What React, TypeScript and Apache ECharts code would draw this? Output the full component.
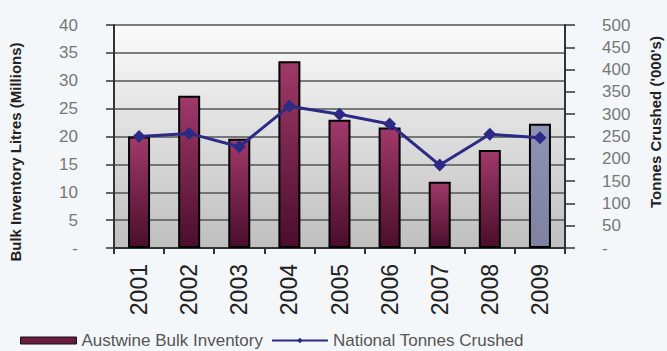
import React, { useEffect, useRef } from "react";
import * as echarts from "echarts";

const years = ["2001", "2002", "2003", "2004", "2005", "2006", "2007", "2008", "2009"];
const bulkInventory = [20.0, 27.3, 19.6, 33.5, 23.0, 21.6, 11.9, 17.6, 22.3];
const tonnesCrushed = [250, 257, 227, 318, 300, 278, 186, 255, 247];

const barGrad = new echarts.graphic.LinearGradient(0, 0, 0, 1, [
  { offset: 0, color: "#a0396a" },
  { offset: 1, color: "#4a0e2b" },
]);
const lastGrad = new echarts.graphic.LinearGradient(0, 0, 0, 1, [
  { offset: 0, color: "#8e93b5" },
  { offset: 1, color: "#7e829f" },
]);

export default function App() {
  const ref = useRef<HTMLDivElement>(null);
  useEffect(() => {
    if (!ref.current) return;
    const chart = echarts.init(ref.current, null, { renderer: "svg" });
    chart.setOption({
      animation: false,
      backgroundColor: "#f4f7f9",
      grid: {
        left: 114,
        right: 102,
        top: 25,
        bottom: 103,
        show: true,
        borderWidth: 0,
        backgroundColor: new echarts.graphic.LinearGradient(0, 0, 0, 1, [
          { offset: 0, color: "#fbfbfb" },
          { offset: 1, color: "#bfbfbf" },
        ]),
      },
      legend: {
        left: 20,
        top: 332,
        padding: 0,
        itemWidth: 56,
        itemHeight: 7,
        itemGap: 8,
        textStyle: { fontFamily: "Liberation Sans", fontSize: 17, color: "#555", lineHeight: 17 },
        data: [
          { name: "Austwine Bulk Inventory", icon: "rect", itemStyle: { color: "#6b1a40", borderColor: "#111", borderWidth: 1 } },
          { name: "National Tonnes Crushed" },
        ],
      },
      xAxis: {
        type: "category",
        data: years,
        axisLine: { lineStyle: { color: "#333", width: 2 } },
        axisTick: { show: true, length: 6, lineStyle: { color: "#333", width: 2 } },
        axisLabel: {
          rotate: 90,
          margin: 16,
          fontFamily: "Liberation Sans",
          fontSize: 23,
          color: "#222",
        },
      },
      yAxis: [
        {
          type: "value",
          min: 0,
          max: 40,
          interval: 5,
          axisLine: { show: true, lineStyle: { color: "#333", width: 2 } },
          axisTick: { show: true, length: 8, lineStyle: { color: "#333", width: 1.5 } },
          splitLine: { lineStyle: { color: "#555", width: 1.5 } },
          axisLabel: {
            margin: 36,
            fontFamily: "Liberation Sans",
            fontSize: 17,
            color: "#777",
            formatter: (v: number) => (v === 0 ? "-" : String(v)),
          },
        },
        {
          type: "value",
          min: 0,
          max: 500,
          interval: 50,
          position: "right",
          axisLine: { show: true, lineStyle: { color: "#333", width: 2 } },
          axisTick: { show: true, length: 10, lineStyle: { color: "#333", width: 1.5 } },
          splitLine: { show: false },
          axisLabel: {
            margin: 37,
            fontFamily: "Liberation Sans",
            fontSize: 17,
            color: "#777",
            formatter: (v: number) => (v === 0 ? "-" : String(v)),
          },
        },
      ],
      graphic: [
        {
          type: "text",
          x: 15,
          y: 152,
          rotation: Math.PI / 2,
          style: {
            text: "Bulk Inventory Litres (Millions)",
            fontFamily: "Liberation Sans",
            fontWeight: "bold",
            fontSize: 15,
            fill: "#222",
            align: "center",
            verticalAlign: "middle",
          },
        },
        {
          type: "text",
          x: 655,
          y: 122,
          rotation: Math.PI / 2,
          style: {
            text: "Tonnes Crushed ('000's)",
            fontFamily: "Liberation Sans",
            fontWeight: "bold",
            fontSize: 15,
            fill: "#222",
            align: "center",
            verticalAlign: "middle",
          },
        },
      ],
      series: [
        {
          name: "Austwine Bulk Inventory",
          type: "bar",
          yAxisIndex: 0,
          barWidth: 22,
          data: bulkInventory.map((v, i) =>
            i === bulkInventory.length - 1
              ? { value: v, itemStyle: { color: lastGrad } }
              : v
          ),
          itemStyle: { color: barGrad, borderColor: "#000", borderWidth: 2 },
        },
        {
          name: "National Tonnes Crushed",
          type: "line",
          yAxisIndex: 1,
          data: tonnesCrushed,
          symbol: "diamond",
          symbolSize: 13,
          lineStyle: { color: "#2c2a85", width: 3 },
          itemStyle: { color: "#2c2a85" },
        },
      ],
    });
    return () => chart.dispose();
  }, []);
  return (
    <div
      ref={ref}
      style={{ position: "absolute", left: 0, top: 0, width: 667, height: 351 }}
    />
  );
}
